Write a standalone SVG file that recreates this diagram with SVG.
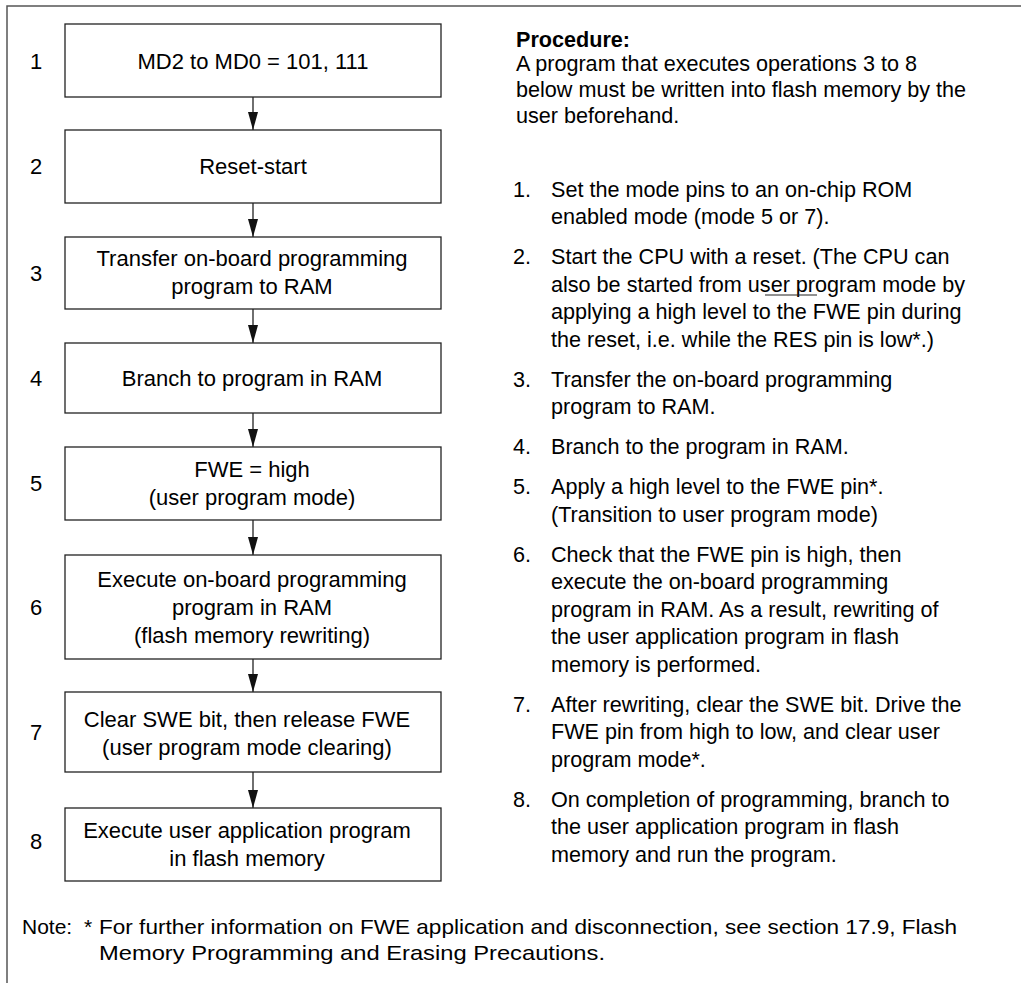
<svg xmlns="http://www.w3.org/2000/svg" width="1021" height="983" viewBox="0 0 1021 983">
<style>
  .box { fill: #fff; stroke: #222; stroke-width: 1.3; }
  .frame { fill: none; stroke: #555; stroke-width: 1.5; }
  .t { font-family: "Liberation Sans", Arial, sans-serif; font-size: 22px; fill: #000; }
  .c { text-anchor: middle; }
  .r { font-family: "Liberation Sans", Arial, sans-serif; font-size: 21.6px; fill: #000; }
  .b { font-weight: bold; }
  .n { font-family: "Liberation Sans", Arial, sans-serif; font-size: 21px; fill: #000; }
  .conn { stroke: #222; stroke-width: 1.3; fill: none; marker-end: url(#arr); }
</style>
<defs>
  <marker id="arr" markerUnits="userSpaceOnUse" markerWidth="18" markerHeight="10" refX="18" refY="5" orient="auto" viewBox="0 0 18 10">
    <path d="M0,0 L18,5 L0,10 Z" fill="#111"/>
  </marker>
</defs>
<rect width="1021" height="983" fill="#fff"/>
<g id="frame">
  <path class="frame" d="M7,983 V6 H1021"/>
</g>
<g id="connectors">
  <line class="conn" x1="253" y1="97" x2="253" y2="130"/>
  <line class="conn" x1="253" y1="203" x2="253" y2="237"/>
  <line class="conn" x1="253" y1="309" x2="253" y2="343"/>
  <line class="conn" x1="253" y1="413" x2="253" y2="447"/>
  <line class="conn" x1="253" y1="520" x2="253" y2="555"/>
  <line class="conn" x1="253" y1="659" x2="253" y2="692"/>
  <line class="conn" x1="253" y1="772" x2="253" y2="808"/>
</g>
<g id="step1">
  <text class="t c" x="36" y="69">1</text>
  <rect class="box" x="65" y="24" width="376" height="73"/>
  <text class="t c" x="253" y="69">MD2 to MD0 = 101, 111</text>
</g>
<g id="step2">
  <text class="t c" x="36" y="174">2</text>
  <rect class="box" x="65" y="130" width="376" height="73"/>
  <text class="t c" x="253" y="174">Reset-start</text>
</g>
<g id="step3">
  <text class="t c" x="36" y="281">3</text>
  <rect class="box" x="65" y="237" width="376" height="72"/>
  <text class="t c" x="252" y="266">Transfer on-board programming</text>
  <text class="t c" x="252" y="294">program to RAM</text>
</g>
<g id="step4">
  <text class="t c" x="36" y="386">4</text>
  <rect class="box" x="65" y="343" width="376" height="70"/>
  <text class="t c" x="252" y="386">Branch to program in RAM</text>
</g>
<g id="step5">
  <text class="t c" x="36" y="491">5</text>
  <rect class="box" x="65" y="447" width="376" height="73"/>
  <text class="t c" x="252" y="477">FWE = high</text>
  <text class="t c" x="252" y="505">(user program mode)</text>
</g>
<g id="step6">
  <text class="t c" x="36" y="615">6</text>
  <rect class="box" x="65" y="555" width="376" height="104"/>
  <text class="t c" x="252" y="587">Execute on-board programming</text>
  <text class="t c" x="252" y="615">program in RAM</text>
  <text class="t c" x="252" y="643">(flash memory rewriting)</text>
</g>
<g id="step7">
  <text class="t c" x="36" y="740">7</text>
  <rect class="box" x="65" y="692" width="376" height="80"/>
  <text class="t c" x="247" y="727">Clear SWE bit, then release FWE</text>
  <text class="t c" x="247" y="755">(user program mode clearing)</text>
</g>
<g id="step8">
  <text class="t c" x="36" y="849">8</text>
  <rect class="box" x="65" y="808" width="376" height="73"/>
  <text class="t c" x="247" y="838">Execute user application program</text>
  <text class="t c" x="247" y="866">in flash memory</text>
</g>
<g id="procedure">
  <text class="r b" x="516" y="47">Procedure:</text>
  <text class="r" x="516" y="71">A program that executes operations 3 to 8</text>
  <text class="r" x="516" y="97">below must be written into flash memory by the</text>
  <text class="r" x="516" y="123">user beforehand.</text>

  <text class="r" x="513" y="196.5">1.</text>
  <text class="r" x="551" y="196.5">Set the mode pins to an on-chip ROM</text>
  <text class="r" x="551" y="224">enabled mode (mode 5 or 7).</text>

  <text class="r" x="513" y="264">2.</text>
  <text class="r" x="551" y="264">Start the CPU with a reset. (The CPU can</text>
  <text class="r" x="551" y="291.5">also be started from user program mode by</text>
  <text class="r" x="551" y="319">applying a high level to the FWE pin during</text>
  <text class="r" x="551" y="346.5">the reset, i.e. while the RES pin is low*.)</text>
  <line x1="765" y1="295" x2="817" y2="295" stroke="#222" stroke-width="1"/>

  <text class="r" x="513" y="386.5">3.</text>
  <text class="r" x="551" y="386.5">Transfer the on-board programming</text>
  <text class="r" x="551" y="414">program to RAM.</text>

  <text class="r" x="513" y="454">4.</text>
  <text class="r" x="551" y="454">Branch to the program in RAM.</text>

  <text class="r" x="513" y="494">5.</text>
  <text class="r" x="551" y="494">Apply a high level to the FWE pin*.</text>
  <text class="r" x="551" y="521.5">(Transition to user program mode)</text>

  <text class="r" x="513" y="561.5">6.</text>
  <text class="r" x="551" y="561.5">Check that the FWE pin is high, then</text>
  <text class="r" x="551" y="589">execute the on-board programming</text>
  <text class="r" x="551" y="616.5">program in RAM. As a result, rewriting of</text>
  <text class="r" x="551" y="644">the user application program in flash</text>
  <text class="r" x="551" y="671.5">memory is performed.</text>

  <text class="r" x="513" y="711.5">7.</text>
  <text class="r" x="551" y="711.5">After rewriting, clear the SWE bit. Drive the</text>
  <text class="r" x="551" y="739">FWE pin from high to low, and clear user</text>
  <text class="r" x="551" y="766.5">program mode*.</text>

  <text class="r" x="513" y="806.5">8.</text>
  <text class="r" x="551" y="806.5">On completion of programming, branch to</text>
  <text class="r" x="551" y="834">the user application program in flash</text>
  <text class="r" x="551" y="861.5">memory and run the program.</text>
</g>
<g id="note">
  <text class="n" x="22" y="934">Note:</text>
  <text class="n" x="84" y="934">*</text>
  <text class="n" x="99" y="934" textLength="858" lengthAdjust="spacingAndGlyphs">For further information on FWE application and disconnection, see section 17.9, Flash</text>
  <text class="n" x="99" y="960" textLength="506" lengthAdjust="spacingAndGlyphs">Memory Programming and Erasing Precautions.</text>
</g>
</svg>
